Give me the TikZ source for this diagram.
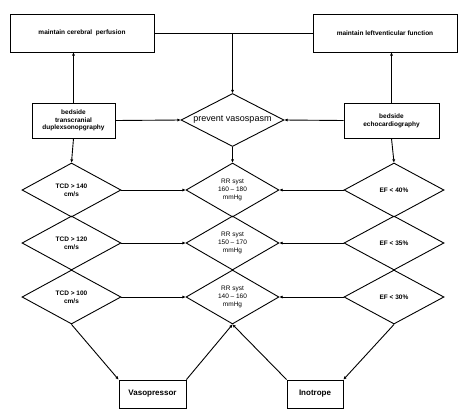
\documentclass[tikz,border=0pt]{standalone}
\usepackage{fontspec}
\setmainfont{Liberation Sans}
\usetikzlibrary{shapes.geometric, arrows.meta, positioning}

\begin{document}
\begin{tikzpicture}[
        x=1pt, y=-1pt,
        box/.style={rectangle, draw, line width=0.9pt, inner sep=0pt, align=center, font=\fontsize{6.5}{7.8}\selectfont\bfseries},
        dia/.style={diamond, draw, line width=0.9pt, inner sep=0pt, aspect=1.8, minimum width=99pt, minimum height=54pt, align=center, font=\fontsize{6.5}{7.8}\selectfont\bfseries},
        arrow/.style={-{Triangle[length=3.2pt, width=2.6pt]}, line width=0.9pt}
    ]
        \useasboundingbox (0,0) rectangle (458,413);

        % Goals at the top
        \node[box, minimum width=144pt, minimum height=38pt] (cereb) at (82,33) {maintain cerebral\ \ perfusion};
        \node[box, minimum width=144pt, minimum height=38pt] (leftv) at (385,33) {maintain leftventicular function};

        % Monitoring and central aim
        \node[box, minimum width=83pt, minimum height=35pt] (tcdbox) at (73.5,120.5) {bedside\\transcranial\\duplexsonopgraphy};
        \node[box, minimum width=95pt, minimum height=35pt] (echobox) at (391.5,120.5) {bedside\\echocardiography};
        \node[dia, minimum width=103pt, minimum height=53pt, font=\fontsize{9}{10.8}\selectfont] (prevent) at (232.5,120) {prevent vasospasm};

        % Three rows of thresholds - 53pt apart
        \node[dia] (tcd1) at (71.5,190) {TCD > 140\\cm/s};
        \node[dia] (tcd2) at (71.5,243) {TCD > 120\\cm/s};
        \node[dia] (tcd3) at (71.5,297) {TCD > 100\\cm/s};

        \node[dia, minimum width=93pt, font=\fontsize{6.5}{7.8}\selectfont] (rr1) at (232.5,190) {RR syst\\160 -- 180\\mmHg};
        \node[dia, minimum width=93pt, font=\fontsize{6.5}{7.8}\selectfont] (rr2) at (232.5,243) {RR syst\\150 -- 170\\mmHg};
        \node[dia, minimum width=93pt, font=\fontsize{6.5}{7.8}\selectfont] (rr3) at (232.5,297) {RR syst\\140 -- 160\\mmHg};

        \node[dia, minimum width=100pt] (ef1) at (394,190) {EF < 40\%};
        \node[dia, minimum width=100pt] (ef2) at (394,243) {EF < 35\%};
        \node[dia, minimum width=100pt] (ef3) at (394,297) {EF < 30\%};

        % Drugs
        \node[box, minimum width=67pt, minimum height=28pt, font=\fontsize{8}{9.6}\selectfont\bfseries] (vaso) at (152.5,394) {Vasopressor};
        \node[box, minimum width=56pt, minimum height=28pt, font=\fontsize{8}{9.6}\selectfont\bfseries] (ino) at (315,394) {Inotrope};

        % Top connections
        \coordinate (junc) at (prevent.north |- cereb.east);
        \draw[line width=0.9pt] (cereb.east) -- (leftv.west);
        \draw[arrow] (junc) -- (prevent.north);
        \draw[arrow] (tcdbox.north) -- (tcdbox.north |- cereb.south);
        \draw[arrow] (echobox.north) -- (echobox.north |- leftv.south);
        \draw[arrow] (tcdbox.east) -- (prevent.west);
        \draw[arrow] (echobox.west) -- (prevent.east);

        % Down into the first row
        \draw[arrow] (tcdbox.south) -- (tcd1.north);
        \draw[arrow] (prevent.south) -- (rr1.north);
        \draw[arrow] (echobox.south) -- (ef1.north);

        % Rows to the middle column
        \foreach \i in {1,2,3} {
            \draw[arrow] (tcd\i.east) -- (rr\i.west);
            \draw[arrow] (ef\i.west) -- (rr\i.east);
        }

        % Bottom connections
        \draw[arrow] (tcd3.south) -- (vaso.north west);
        \draw[arrow] (vaso.north east) -- (rr3.south);
        \draw[arrow] (ino.north west) -- (rr3.south);
        \draw[arrow] (ef3.south) -- (ino.north east);
    \end{tikzpicture}
\end{document}
